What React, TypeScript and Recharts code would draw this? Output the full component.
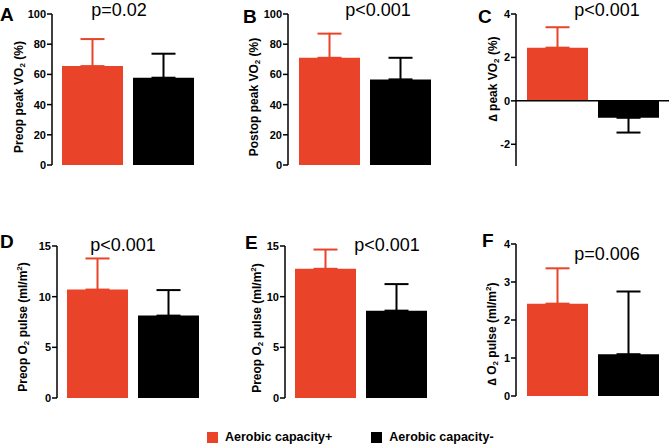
import React from 'react';
import { BarChart, Bar, XAxis, YAxis, ErrorBar, ReferenceLine } from 'recharts';

// series + per panel values
const seriesNames = ['Aerobic capacity+', 'Aerobic capacity-'];
const panelLetters = ['A', 'B', 'C', 'D', 'E', 'F'];
const plusMeans = [65.5, 71, 2.45, 10.7, 12.75, 2.43];
const plusSD = [17.9, 16, 0.94, 3.07, 1.9, 0.93];
const minusMeans = [57.8, 56.7, -0.78, 8.13, 8.62, 1.1];
const minusSD = [15.9, 14.3, 0.68, 2.52, 2.62, 1.65];
const pLabels = ['p=0.02', 'p<0.001', 'p<0.001', 'p<0.001', 'p<0.001', 'p=0.006'];
const yDomains = [[0, 100], [0, 100], [-3, 4], [0, 15], [0, 15], [0, 4]];
const yTicks = [
  [0, 20, 40, 60, 80, 100],
  [0, 20, 40, 60, 80, 100],
  [-2, 0, 2, 4],
  [0, 5, 10, 15],
  [0, 5, 10, 15],
  [0, 1, 2, 3, 4],
];
// normal / subscript / normal / superscript / normal
const yTitleParts = [
  ['Preop peak VO', '2', ' (%)'],
  ['Postop peak VO', '2', ' (%)'],
  ['\u2206 peak VO', '2', ' (%)'],
  ['Preop O', '2', ' pulse (ml/m', '2', ')'],
  ['Preop O', '2', ' pulse (ml/m', '2', ')'],
  ['\u2206 O', '2', ' pulse (ml/m', '2', ')'],
];

const RED = '#E9432A';
const FONT = '"Liberation Sans", Arial, sans-serif';

// layout of each panel in page pixels
const geom = [
  { axisX: 52, top: 14, bottom: 165, right: 204, letter: [0, 21], p: [119, 16], title: [19, 97] },
  { axisX: 288, top: 14, bottom: 165, right: 442, letter: [243, 23], p: [378, 16], title: [254, 97] },
  { axisX: 516, top: 14, bottom: 166, right: 670, letter: [478, 23], p: [607, 16], title: [493, 79] },
  { axisX: 57, top: 246, bottom: 398, right: 209, letter: [0, 248], p: [123, 251], title: [23, 327] },
  { axisX: 285, top: 246, bottom: 398, right: 437, letter: [245, 249], p: [387, 251], title: [257, 328] },
  { axisX: 516, top: 244, bottom: 396, right: 670, letter: [482, 247], p: [607, 260], title: [492, 334] },
];

const Y_W = 50;

function Panel({ i }: { i: number }) {
  const g = geom[i];
  const left = g.axisX - Y_W;
  const top = g.top - 10;
  const width = g.right - left;
  const height = g.bottom - top + 10;
  const data = [
    {
      name: panelLetters[i],
      plus: plusMeans[i],
      minus: minusMeans[i],
      plusErr: [0, plusSD[i]],
      minusErr: minusMeans[i] < 0 ? [minusSD[i], 0] : [0, minusSD[i]],
    },
  ];
  return (
    <div style={{ position: 'absolute', left, top }}>
      <BarChart
        width={width}
        height={height}
        data={data}
        margin={{ top: 10, right: 0, bottom: 10, left: 0 }}
        barGap={10}
        barSize={61}
      >
        <XAxis
          dataKey="name"
          tick={false}
          tickLine={false}
          height={0}
          axisLine={{ stroke: '#000', strokeWidth: 1.5 }}
        />
        <YAxis
          width={Y_W}
          domain={yDomains[i]}
          ticks={yTicks[i]}
          interval={0}
          tickSize={5}
          tickMargin={1}
          axisLine={{ stroke: '#000', strokeWidth: 1.5 }}
          tickLine={{ stroke: '#000', strokeWidth: 1.5 }}
          tick={{ fill: '#000', fontSize: 11, fontWeight: 'bold', fontFamily: FONT }}
        />
        {yDomains[i][0] < 0 && <ReferenceLine y={0} stroke="#000" strokeWidth={1.5} />}
        <Bar dataKey="plus" name={seriesNames[0]} fill={RED} isAnimationActive={false}>
          <ErrorBar dataKey="plusErr" direction="y" width={12} stroke={RED} strokeWidth={2} />
        </Bar>
        <Bar dataKey="minus" name={seriesNames[1]} fill="#000" isAnimationActive={false}>
          <ErrorBar dataKey="minusErr" direction="y" width={12} stroke="#000" strokeWidth={2} />
        </Bar>
      </BarChart>
    </div>
  );
}

function YTitle({ i }: { i: number }) {
  const [cx, cy] = geom[i].title;
  const parts = yTitleParts[i];
  return (
    <text
      x={cx}
      y={cy}
      transform={`rotate(-90, ${cx}, ${cy})`}
      textAnchor="middle"
      dominantBaseline="central"
      fontSize={12}
      fontWeight="bold"
      fontFamily={FONT}
      fill="#000"
    >
      <tspan>{parts[0]}</tspan>
      <tspan fontSize={8} dy={3}>{parts[1]}</tspan>
      <tspan dy={-3}>{parts[2]}</tspan>
      {parts.length > 3 && (
        <>
          <tspan fontSize={8} dy={-4}>{parts[3]}</tspan>
          <tspan dy={4}>{parts[4]}</tspan>
        </>
      )}
    </text>
  );
}

export default function App() {
  return (
    <div
      style={{
        position: 'absolute',
        left: 0,
        top: 0,
        width: 669,
        height: 445,
        background: '#fff',
        overflow: 'hidden',
        fontFamily: FONT,
      }}
    >
      {geom.map((_, i) => (
        <Panel key={i} i={i} />
      ))}
      <svg width={669} height={445} style={{ position: 'absolute', left: 0, top: 0, pointerEvents: 'none' }}>
        {geom.map((g, i) => (
          <g key={i}>
            <text x={g.letter[0]} y={g.letter[1]} fontSize={19} fontWeight="bold" fontFamily={FONT}>
              {panelLetters[i]}
            </text>
            <text x={g.p[0]} y={g.p[1]} textAnchor="middle" fontSize={18} fontFamily={FONT}>
              {pLabels[i]}
            </text>
            <YTitle i={i} />
          </g>
        ))}
      </svg>
      {/* legend */}
      <div
        style={{
          position: 'absolute',
          left: 207,
          top: 430,
          display: 'flex',
          alignItems: 'center',
          fontSize: 12.5,
          fontWeight: 'bold',
          lineHeight: '15px',
        }}
      >
        {seriesNames.map((n, k) => (
          <div key={n} style={{ display: 'flex', alignItems: 'center', marginRight: k === 0 ? 39 : 0 }}>
            <span style={{ width: 11, height: 11, background: k === 0 ? RED : '#000', marginRight: 7 }} />
            <span>{n}</span>
          </div>
        ))}
      </div>
    </div>
  );
}
